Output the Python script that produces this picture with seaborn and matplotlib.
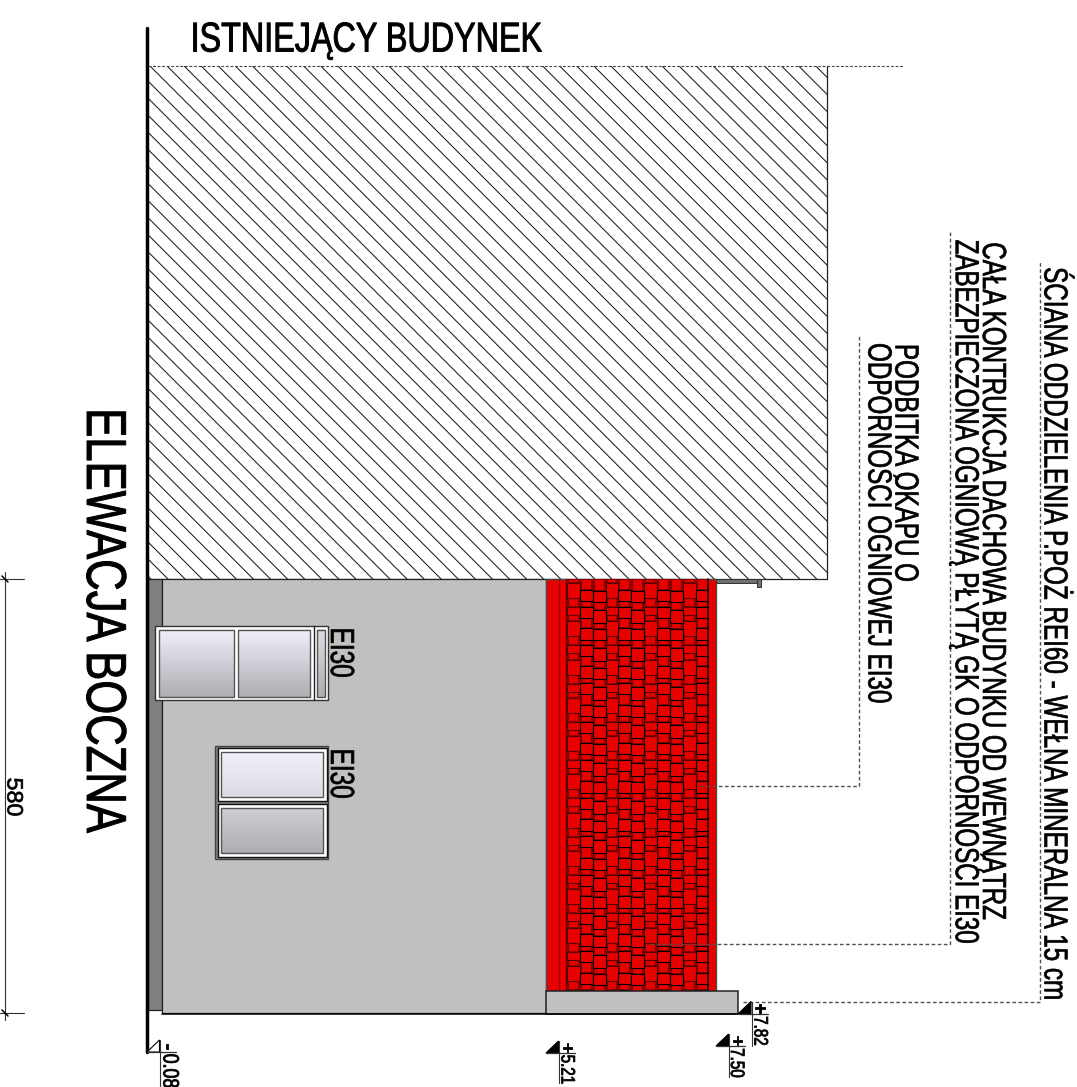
import matplotlib
matplotlib.use("Agg")
import matplotlib.pyplot as plt
import seaborn as sns
import numpy as np
from matplotlib.patches import Rectangle, Polygon
from matplotlib.collections import LineCollection
from matplotlib.patheffects import AbstractPathEffect
from matplotlib.text import Text
from matplotlib.transforms import Affine2D, Bbox

# ---- content ------------------------------------------------------------
title_text = "ISTNIEJĄCY BUDYNEK"
elevation_title = "ELEWACJA BOCZNA"
notes = ["ŚCIANA ODDZIELENIA P.POŻ REI60 - WEŁNA MINERALNA 15 cm",
         "CAŁA KONTRUKCJA DACHOWA BUDYNKU OD WEWNĄTRZ",
         "ZABEZPIECZONA OGNIOWĄ PŁYTĄ GK O ODPORNOŚCI EI30",
         "PODBITKA OKAPU O",
         "ODPORNOŚCI OGNIOWEJ EI30"]
window_label = "EI30"
dimension_label = "580"
level_signs = ["-", "+", "+", "+"]
level_values = ["0.08", "5.21", "7.50", "7.82"]
# (first brick offset, heights alternating front / back) for the three repeating columns
brick_start = [4.0, 10.7, 12.0]
brick_heights = [[15, 9, 8, 6.3], [11.5, 5.5, 11, 10.3], [11, 8, 13, 6.3]]
# leader lines
leader_x = [[650, 950, 950], [700, 859, 859], [743, 1039.5, 1039.5]]
leader_y = [[943.5, 943.5, 230], [785.5, 785.5, 334], [1001.5, 1001.5, 262]]

RED, SHADOW, WALL, SOFFIT = "#e60000", "#8a0000", "#c0c0c0", "#808080"

sns.set_theme(style="white", rc={"axes.grid": False})
plt.rcParams["font.family"] = ["Liberation Sans", "DejaVu Sans"]


class Condense(AbstractPathEffect):
    """Narrow a text about its middle and thicken it slightly (Arial Narrow look)."""
    def __init__(self, sx, stroke=0.5):
        super().__init__()
        self.sx, self.stroke = sx, stroke

    def draw_path(self, renderer, gc, tpath, affine, rgbFace=None):
        ext = tpath.get_extents()
        c = (ext.x0 + ext.x1) / 2
        t = Affine2D().translate(-c, 0).scale(self.sx, 1).translate(c, 0) + affine
        gc0 = renderer.new_gc()
        gc0.copy_properties(gc)
        gc0.set_linewidth(self.stroke)
        gc0.set_foreground(rgbFace)
        renderer.draw_path(gc0, tpath, t, rgbFace)
        gc0.restore()


class NarrowText(Text):
    """Real text whose reported extent follows its condensed drawing."""
    narrow = 1.0

    def get_window_extent(self, renderer=None, dpi=None):
        bb = super().get_window_extent(renderer, dpi)
        if self.get_rotation() == 0:
            c, half = (bb.x0 + bb.x1) / 2, bb.width / 2 * self.narrow
            return Bbox.from_extents(c - half, bb.y0, c + half, bb.y1)
        c, half = (bb.y0 + bb.y1) / 2, bb.height / 2 * self.narrow
        return Bbox.from_extents(bb.x0, c - half, bb.x1, c + half)


fig = plt.figure(figsize=(10.77, 10.87), dpi=100)
ax = fig.add_axes([0, 0, 1, 1])


def label(x, y, s, size, sx, rot=-90, stroke=0.5, **kw):
    t = NarrowText(x, y, s, fontsize=size, rotation=rot, va="center", ha="center",
                   color="black", zorder=20, **kw)
    t.narrow = sx
    t.set_path_effects([Condense(sx, stroke)])
    ax.add_artist(t)
    return t


# hatched building
bx0, by0, bx1, by1 = 148, 66, 827, 579
clip = Rectangle((bx0, by0), bx1 - bx0, by1 - by0, fc="white", ec="none", zorder=1)
ax.add_patch(clip)
segs = [[(s, by0), (s + 600, by0 + 600)] for s in np.arange(150 - 17.07 * 40, 840, 17.07)]
lc = LineCollection(segs, colors="#1c1c1c", linewidths=0.75, zorder=2)
ax.add_collection(lc)
lc.set_clip_path(clip)
ax.plot([148, 903], [66, 66], color="#444444", lw=0.8, ls=(0, (2.5, 1.6)), zorder=3)
ax.plot([827, 827, 148], [66, 579, 579], color="#222222", lw=0.9, zorder=3)

# walls
ax.add_patch(Rectangle((148, 579), 14, 431, fc=SOFFIT, ec="#222222", lw=0.9, zorder=3))
ax.add_patch(Rectangle((162, 579), 384, 434, fc=WALL, ec="#222222", lw=0.9, zorder=3))
ax.add_patch(Rectangle((546, 579), 170, 412, fc=RED, ec="#4a4a4a", lw=1.0, zorder=3))
ax.plot([558.5, 558.5], [579, 991], color="#a00000", lw=0.9, zorder=4)
ax.plot([565.5, 565.5], [579, 991], color="#600000", lw=1.0, zorder=4)
ax.plot([708.3, 708.3], [579, 991], color="#220000", lw=1.1, zorder=6)

# bricks
col_w = 12.87
brick_clip = Rectangle((566, 579), 142.5, 412, transform=ax.transData)
for i in range(11):
    kind = i % 3
    x = 567 + i * col_w
    hs = brick_heights[kind]
    r = Rectangle((x + 1, 579), col_w - 2, brick_start[kind], fc=RED, ec=SHADOW, lw=1.5, zorder=5)
    ax.add_patch(r)
    r.set_clip_path(brick_clip)
    y = 579 + brick_start[kind]
    k = 0
    front_edge = "#5a0000" if kind == 0 else "black"
    while y < 991:
        h = hs[k % 4]
        front = k % 2 == 0
        r = Rectangle((x if front else x + 1, y), col_w if front else col_w - 2, h, fc=RED,
                      ec=front_edge if front else SHADOW, lw=0.8 if front else 1.5,
                      zorder=(5.4 if kind == 0 else 5.6) if front else 5)
        ax.add_patch(r)
        r.set_clip_path(brick_clip)
        y += h
        k += 1

# plinth and eave
ax.add_patch(Rectangle((546, 991), 192, 22.5, fc=WALL, ec="#222222", lw=1.1, zorder=7))
ax.add_patch(Rectangle((716, 579), 41, 4, fc="#707070", ec="#333333", lw=0.7, zorder=3))
ax.add_patch(Rectangle((757, 579), 4, 8, fc="#707070", ec="#333333", lw=0.7, zorder=3))

# thick ground line and bottom line
sns.lineplot(x=[147, 147], y=[28, 1052], color="black", lw=2.5, ax=ax, sort=False,
             estimator=None, solid_capstyle="round", zorder=8)
ax.plot([162, 738], [1013.5, 1013.5], color="black", lw=1.1, zorder=8)


# windows
def pane(x0, y0, x1, y1, top, bottom):
    grad = np.linspace(0, 1, 64).reshape(-1, 1, 1)
    c0, c1 = np.array(matplotlib.colors.to_rgb(top)), np.array(matplotlib.colors.to_rgb(bottom))
    ax.imshow(c0 + (c1 - c0) * grad, extent=(x0, x1, y1, y0), aspect="auto", zorder=10)
    ax.add_patch(Rectangle((x0, y0), x1 - x0, y1 - y0, fc="none", ec="#555555", lw=1.0, zorder=11))


def frame(x0, y0, x1, y1, ec="#333333", fc="white"):
    ax.add_patch(Rectangle((x0, y0), x1 - x0, y1 - y0, fc=fc, ec=ec, lw=1.0, zorder=9))


G1, G2, G3 = "#f0f0fb", "#dcdce6", "#adadb2"
frame(154.5, 625.5, 328, 700)
ax.plot([313.5, 313.5], [625.5, 700], color="#222222", lw=1.0, zorder=11)
pane(158.5, 629.5, 234, 697, G1, G3)
pane(238, 629.5, 310, 697, G1, G3)
pane(317, 629.5, 325, 697, "#dcdce4", G3)
frame(215, 746, 328, 859, ec="#444444", fc="#808080")
frame(217.5, 748, 327, 801, ec="#111111")
frame(217.5, 804, 327, 857, ec="#111111")
pane(221, 752, 323, 797, G1, G2)
pane(221, 808, 323, 853, "#cfcfd4", G3)

# text
label(365.5, 40.5, title_text, 30, 0.776, rot=0, stroke=0.7)
label(101, 620, elevation_title, 40.5, 0.775, stroke=0.7)
label(1053, 634, notes[0], 24, 0.728)
label(991.5, 581.5, notes[1], 24, 0.724)
label(967.5, 592, notes[2], 24, 0.724)
label(904, 463, notes[3], 24, 0.726)
label(877, 523.5, notes[4], 24, 0.726)
label(339.5, 652.5, window_label, 24, 0.73)
label(339.5, 773.5, window_label, 24, 0.73)

# leader lines
for xs, ys in zip(leader_x, leader_y):
    sns.lineplot(x=xs, y=ys, ax=ax, sort=False, estimator=None, color="#505050",
                 lw=1.0, zorder=12, dashes=False, linestyle=(0, (2.6, 1.8)))

# dimension
ax.plot([5, 5], [572, 1020], color="#333333", lw=0.8)
ax.plot([0, 24], [579, 579], color="#333333", lw=0.8)
ax.plot([0, 24], [1013, 1013], color="#333333", lw=0.8)
ax.plot([2, 8], [576, 582], color="black", lw=1.1)
ax.plot([2, 8], [1010, 1016], color="black", lw=1.1)
label(13, 797, dimension_label, 16, 1.05)


# level markers
def level(x, y, sign, value, filled, size, sx, tx, ty, tall):
    ax.add_patch(Polygon([(x, y), (x + 12.5, y - 12), (x + 12.5, y)], closed=True,
                         fc="black" if filled else "white", ec="black", lw=0.8, zorder=12))
    ax.plot([x + 13, x + 13], [y - 12, y + tall], color="#333333", lw=0.8, zorder=12)
    ax.plot([x, x + 29], [y, y], color="#333333", lw=0.9, zorder=12)
    label(x + 20, y - 5.5, sign, 13, 1.0, stroke=0.6, fontweight="bold")
    label(x + tx, y + ty, value, size, sx, stroke=0.6)


level(147, 1052, level_signs[0], level_values[0], False, 16, 0.8, 22, 19, 40)
level(546, 1053, level_signs[1], level_values[1], True, 14, 0.78, 20, 16.5, 30)
level(716, 1046, level_signs[2], level_values[2], True, 14, 0.78, 19.5, 17, 31)
level(738.5, 1013.5, level_signs[3], level_values[3], True, 14, 0.78, 20.5, 17.5, 32)

ax.set_xlim(0, 1077)
ax.set_ylim(1087, 0)
ax.axis("off")
leg = ax.get_legend()
if leg:
    leg.remove()

fig.savefig("out.png", dpi=100)
